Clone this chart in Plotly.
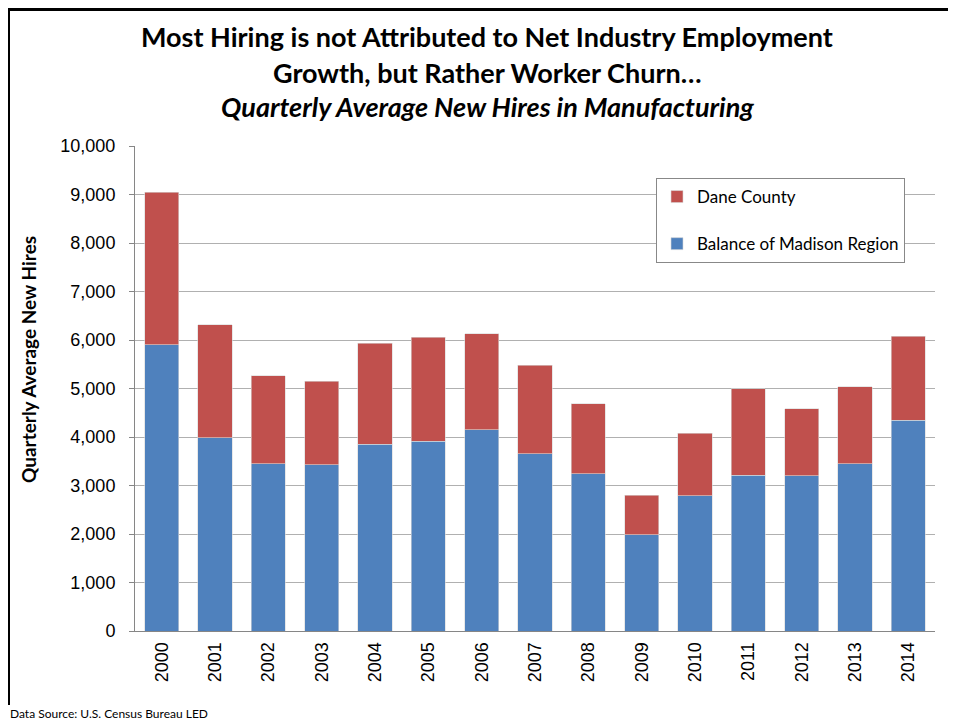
import plotly.graph_objects as go

years = [str(y) for y in range(2000, 2015)]
balance_madison = [5900, 3980, 3450, 3430, 3850, 3910, 4150, 3650, 3240, 1980, 2790, 3210, 3200, 3450, 4350]
total_hires = [9050, 6310, 5260, 5150, 5930, 6060, 6130, 5480, 4690, 2800, 4080, 4990, 4580, 5040, 6080]
dane_county = [t - b for t, b in zip(total_hires, balance_madison)]

# page-pixel geometry (body margin of 8px offsets the figure)
O = 8
L, R, T, B = 135, 935, 146, 631
W, H = 956 - O, 721 - O

def px(x):
    return (x - L) / (R - L)

def py(y):
    return (B - y) / (B - T)

fig = go.Figure()
fig.add_trace(go.Bar(x=years, y=balance_madison, name="Balance of Madison Region",
                     marker=dict(color="#4F81BD", line=dict(color="#D9D9D9", width=0.6)),
                     legendgroup="b", legendrank=2))
fig.add_trace(go.Bar(x=years, y=dane_county, name="Dane County",
                     marker=dict(color="#C0504D", line=dict(color="#D9D9D9", width=0.6)),
                     legendgroup="d", legendrank=1))

title_font = dict(family="Lato", size=27, color="black")
annotations = [
    dict(text="<b>Most Hiring is not Attributed to Net Industry Employment</b>", x=px(487), y=py(37)),
    dict(text="<b>Growth, but Rather Worker Churn…</b>", x=px(487), y=py(72)),
    dict(text="<b><i>Quarterly Average New Hires in Manufacturing</i></b>", x=px(487), y=py(106)),
]
for a in annotations:
    a.update(xref="paper", yref="paper", xanchor="center", yanchor="middle",
             showarrow=False, font=title_font)
annotations += [
    dict(text="<b>Quarterly Average New Hires</b>", textangle=-90,
         x=px(28), y=py(360), xref="paper", yref="paper",
         xanchor="center", yanchor="middle", showarrow=False,
         font=dict(family="Lato", size=19, color="black")),
    dict(text="Data Source: U.S. Census Bureau LED",
         x=px(8), y=py(713), xref="paper", yref="paper",
         xanchor="left", yanchor="middle", showarrow=False,
         font=dict(family="Lato", size=12, color="black")),
]

fig.update_layout(
    width=W, height=H,
    margin=dict(l=L - O, r=956 - R, t=T - O, b=721 - B),
    barmode="stack", bargap=0.36,
    plot_bgcolor="white", paper_bgcolor="white",
    showlegend=True,
    legend=dict(
        x=px(656), y=py(178), xanchor="left", yanchor="top",
        traceorder="grouped", tracegroupgap=22,
        bordercolor="#888888", borderwidth=1, bgcolor="white",
        font=dict(family="Lato", size=17, color="black"),
        itemwidth=30,
    ),
    xaxis=dict(
        type="category", tickangle=-90, showline=True, linecolor="#868686", linewidth=1,
        tickfont=dict(family="Liberation Sans", size=18, color="black"),
        ticks="", showgrid=False, ticklabelstandoff=3,
    ),
    yaxis=dict(
        range=[0, 10000], dtick=1000, tickformat=",",
        showline=True, linecolor="#868686", linewidth=1,
        ticks="outside", ticklen=5, tickcolor="#868686",
        gridcolor="#B0B0B0", gridwidth=1, zeroline=False,
        tickfont=dict(family="Liberation Sans", size=18, color="black"),
        ticklabelstandoff=10,
    ),
    annotations=annotations,
    shapes=[
        dict(type="line", xref="paper", yref="paper", x0=px(8.5), x1=px(8.5),
             y0=py(9.5), y1=py(705), line=dict(color="black", width=3)),
        dict(type="line", xref="paper", yref="paper", x0=px(7), x1=px(956),
             y0=py(9.5), y1=py(9.5), line=dict(color="black", width=3)),
    ],
)

fig.write_html("out.html", config={"displayModeBar": False})
